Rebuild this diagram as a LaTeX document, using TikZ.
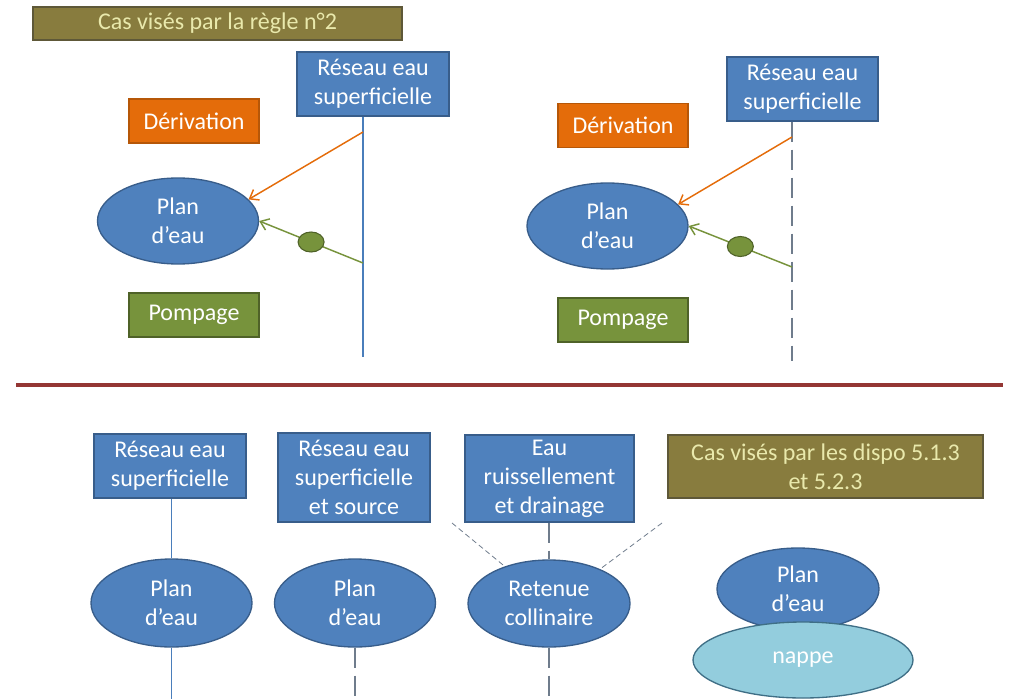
\documentclass[tikz,border=0pt]{standalone}
\usepackage{fontspec}
\setmainfont{Carlito}
\usetikzlibrary{shapes.geometric,arrows.meta}

\definecolor{boxblue}{HTML}{4F81BD}
\definecolor{boxblueline}{HTML}{385D8A}
\definecolor{derivorange}{HTML}{E46C0A}
\definecolor{derivline}{HTML}{B65708}
\definecolor{pompgreen}{HTML}{77933C}
\definecolor{pompline}{HTML}{4F6228}
\definecolor{casolive}{HTML}{887C3E}
\definecolor{casline}{HTML}{5E5838}
\definecolor{castext}{HTML}{E9E9AC}
\definecolor{nappeblue}{HTML}{93CDDD}
\definecolor{nappeline}{HTML}{3F6F86}
\definecolor{riverblue}{HTML}{4A7EBB}
\definecolor{rivergrey}{HTML}{6F7C8C}
\definecolor{sepred}{HTML}{943634}

\begin{document}
\begin{tikzpicture}[
	x=0.75pt, y=-0.75pt,
	every node/.style={font=\fontsize{18}{21.75}\selectfont, align=center, inner sep=0pt},
	reseau/.style={rectangle, draw=boxblueline, line width=1pt, fill=boxblue, text=white},
	derivbox/.style={rectangle, draw=derivline, line width=1pt, fill=derivorange, text=white,
		minimum width=97.5pt, minimum height=33pt},
	pompbox/.style={rectangle, draw=pompline, line width=1pt, fill=pompgreen, text=white,
		minimum width=97.5pt, minimum height=33pt},
	casbox/.style={rectangle, draw=casline, line width=1pt, fill=casolive, text=castext},
	plan/.style={ellipse, draw=boxblueline, line width=1pt, fill=boxblue, text=white,
		minimum width=120.75pt, minimum height=64.5pt},
	nappe/.style={ellipse, draw=nappeline, line width=1pt, fill=nappeblue, text=white,
		minimum width=165pt, minimum height=57pt},
	dot/.style={ellipse, draw=pompline, line width=0.8pt, fill=pompgreen,
		minimum width=19.5pt, minimum height=15pt},
	river/.style={draw=riverblue, line width=1.1pt},
	riverdash/.style={draw=rivergrey, line width=1.5pt, dash pattern=on 15pt off 6pt},
	runoff/.style={draw=rivergrey, line width=0.6pt, dash pattern=on 4pt off 2.5pt},
	derivarrow/.style={draw=derivorange, line width=1.1pt, -{Straight Barb[length=6pt,width=9pt]}},
	pomparrow/.style={draw=pompgreen, line width=1.1pt, -{Straight Barb[length=6pt,width=9pt]}}]

	\useasboundingbox (0,0) rectangle (1009,699);

	% rule n°2, left case
	\node[casbox, minimum width=276.75pt, minimum height=24.75pt] (casA) at (217.5,23.5) {Cas visés par la règle n°2};
	\node[reseau, minimum width=114pt, minimum height=48pt] (reseauA) at (373,84) {Réseau eau\\superficielle};
	\node[derivbox] (derivA) at (194,121) {Dérivation};
	\node[plan] (planA) at (178,221) {Plan\\d’eau};
	\node[pompbox] (pompA) at (194,315) {Pompage};
	\coordinate (riverA) at (363,357);
	\coordinate (takeA) at (363,132);
	\coordinate (pumpA) at (363,263);
	\draw[river] (reseauA.south -| riverA) -- (riverA);
	\draw[derivarrow] (takeA) -- (planA.17);
	\draw[pomparrow] (pumpA) -- node[dot, pos=0.5] (dotA) {} (planA.east);

	% rule n°2, right case
	\node[reseau, minimum width=113.25pt, minimum height=48pt] (reseauB) at (802.5,89) {Réseau eau\\superficielle};
	\node[derivbox] (derivB) at (623,125.5) {Dérivation};
	\node[plan] (planB) at (607.5,226) {Plan\\d’eau};
	\node[pompbox] (pompB) at (623,320) {Pompage};
	\coordinate (riverB) at (792,361);
	\coordinate (takeB) at (792,137);
	\coordinate (pumpB) at (792,267);
	\draw[riverdash] (reseauB.south -| riverB) -- (riverB);
	\draw[derivarrow] (takeB) -- (planB.17);
	\draw[pomparrow] (pumpB) -- node[dot, pos=0.5] (dotB) {} (planB.east);

	% separator
	\coordinate (sepL) at (16,385);
	\coordinate (sepR) at (1003,385);
	\draw[sepred, line width=3pt] (sepL) -- (sepR);

	% dispo 5.1.3 and 5.2.3
	\node[reseau, minimum width=114pt, minimum height=48pt] (reseauC) at (170,466) {Réseau eau\\superficielle};
	\node[plan, minimum height=66pt] (planC) at (171.5,603) {Plan\\d’eau};
	\coordinate (outC) at (171.5,699);
	\draw[river] (reseauC.south -| planC) -- (planC.north);
	\draw[river] (planC.south) -- (outC);

	\node[reseau, minimum width=114pt, minimum height=66.75pt] (reseauD) at (354,477.5) {Réseau eau\\superficielle\\et source};
	\node[plan, minimum height=66pt] (planD) at (355,603) {Plan\\d’eau};
	\coordinate (outD) at (355,699);
	\draw[riverdash] (planD.south) -- (outD);

	\node[reseau, minimum width=126.75pt, minimum height=65.25pt] (reseauE) at (549.5,478.5) {Eau\\ruissellement\\et drainage};
	\node[plan, minimum width=121.5pt, minimum height=65.25pt] (retenue) at (549,603.5) {Retenue\\collinaire};
	\coordinate (outE) at (549,699);
	\coordinate (slopeL) at (452,523);
	\coordinate (slopeR) at (662,523);
	\draw[riverdash] (reseauE.south -| retenue) -- (retenue.north);
	\draw[riverdash] (retenue.south) -- (outE);
	\draw[runoff] (slopeL) -- (retenue.140);
	\draw[runoff] (slopeR) -- (retenue.34);

	\node[casbox, minimum width=236.25pt, minimum height=47.25pt] (casB) at (825.5,466.5) {Cas visés par les dispo 5.1.3\\et 5.2.3};
	\node[plan, minimum width=121.5pt, minimum height=61.5pt] (planF) at (798,589) {Plan\\d’eau};
	\node[nappe] (nappeF) at (803,660) {nappe};
\end{tikzpicture}
\end{document}
